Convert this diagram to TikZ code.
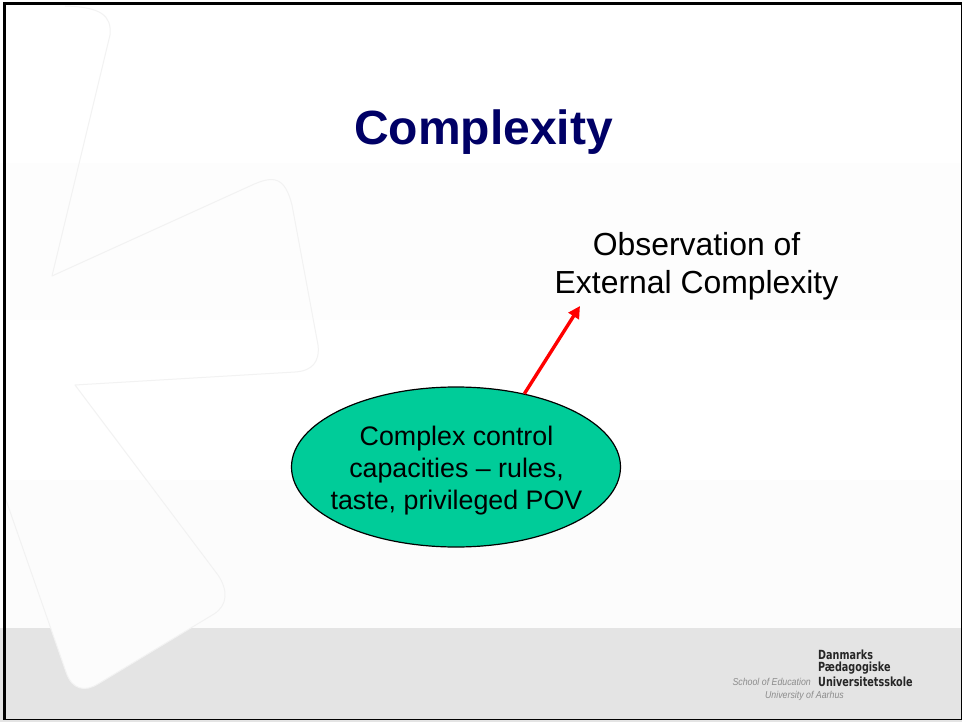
\documentclass[tikz,border=0pt]{standalone}
\usepackage{fontspec}
\setmainfont{Liberation Sans}
\newfontfamily\logofont[FakeStretch=0.85]{DejaVu Sans Condensed}
\newfontfamily\logosubfont[FakeStretch=0.88]{Liberation Sans}
\usetikzlibrary{shapes.geometric,arrows.meta}
\definecolor{titleblue}{HTML}{000066}
\definecolor{ovalgreen}{HTML}{00CC99}
\definecolor{footgrey}{HTML}{E4E4E4}
\definecolor{bandgrey}{HTML}{FDFDFD}
\definecolor{bandgreyb}{HTML}{FCFCFC}
\definecolor{shapeline}{HTML}{F2F2F2}
\definecolor{logogrey}{HTML}{8C8C8C}
\tikzset{
  px/.style={x=1pt,y=-1pt},
  ghost/.style={draw=shapeline,line width=1pt,line join=round},
  titletext/.style={font=\fontsize{48}{52}\selectfont\bfseries,text=titleblue,inner sep=0pt},
  bodytext/.style={font=\fontsize{31.9}{38}\selectfont,align=center,inner sep=0pt},
  ovalshape/.style={ellipse,draw=black,line width=1.2pt,fill=ovalgreen,minimum width=329pt,minimum height=160pt,inner sep=0pt},
  ovaltext/.style={inner sep=0pt,font=\fontsize{26.8}{32}\selectfont,align=center},
  logobold/.style={font=\logofont\bfseries\fontsize{12.6}{12.6}\selectfont,text=black!85,anchor=west,inner sep=0pt},
  logosub/.style={font=\logosubfont\itshape\fontsize{10}{12}\selectfont,text=logogrey,inner sep=0pt},
  redarrow/.style={draw=red,line width=3.4pt,-{Triangle[length=12pt,width=12pt]}}
}
\begin{document}
\begin{tikzpicture}[px]
\useasboundingbox (0,0) rectangle (962,722);
% background bands
\fill[white] (0,0) rectangle (962,722);
\fill[bandgrey] (0,163) rectangle (962,320);
\fill[bandgreyb] (0,480) rectangle (962,628);
\fill[footgrey] (0,628) rectangle (962,722);
% pale background shapes
\begin{scope}
\clip (0,628) rectangle (962,722);
\fill[bandgreyb] (6,500) -- (66,672) .. controls (72,690) and (85,692) .. (98,684)
  -- (214,614) .. controls (228,605) and (228,590) .. (218,575) -- (75,385) -- (0,385) -- cycle;
\end{scope}
\draw[ghost] (65,6) .. controls (100,7) and (112,15) .. (110,35)
  -- (52,276) -- (250,186) .. controls (275,174) and (285,178) .. (292,205)
  -- (318,345) .. controls (320,362) and (312,371) .. (295,372) -- (75,385)
  -- (218,575) .. controls (228,590) and (228,605) .. (214,614)
  -- (98,684) .. controls (85,692) and (72,690) .. (66,672) -- (6,500);
% border
\draw[black,line width=2.6pt] (4.5,3.5) -- (961,3.5);
\draw[black,line width=2.6pt] (4.5,2.2) -- (4.5,720);
\draw[black,line width=1.6pt] (3.7,719.5) -- (961,719.5);
\draw[black,line width=1.4pt] (961.2,2.2) -- (961.2,720);
% content
\node[titletext] (title) at (483.5,132) {Complexity};
\node[bodytext] (obs) at (696.5,266) {Observation of\\External Complexity};
\node[ovalshape] (oval) at (456,467) {};
\node[ovaltext] (ovallabel) at (456.5,471) {Complex control\\capacities – rules,\\taste, privileged POV};
\coordinate (tip) at (580,306);
\draw[redarrow] (oval.47) -- (tip);
% logo
\node[logobold] (l1) at (818,655) {Danmarks};
\node[logobold] (l2) at (818,668) {Pædagogiske};
\node[logobold] (l3) at (818,682) {Universitetsskole};
\node[logosub,anchor=east] (l4) at (811,682) {School of Education};
\node[logosub] (l5) at (804.5,696) {University of Aarhus};
\end{tikzpicture}
\end{document}
